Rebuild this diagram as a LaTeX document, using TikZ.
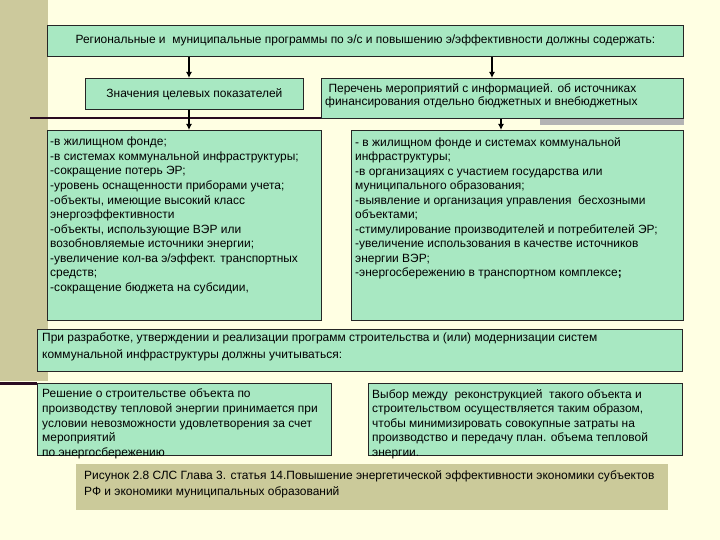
\documentclass[tikz,border=0pt]{standalone}
\usepackage{fontspec}
\setmainfont{Liberation Sans}
\usetikzlibrary{arrows.meta,calc}
\definecolor{bg}{HTML}{FFFFE3}
\definecolor{stripc}{HTML}{CCC99C}
\definecolor{mint}{HTML}{A8E8C2}
\definecolor{darkc}{HTML}{2A0C22}
\definecolor{captc}{HTML}{CBCA9A}
\definecolor{shadowc}{HTML}{B4B4B4}
\begin{document}
\begin{tikzpicture}[x=1bp,y=-1bp,
  box/.style={draw=black!85, fill=mint, line width=0.8bp, inner sep=0, anchor=north west},
  txt/.style={anchor=north west, inner sep=0, align=left, font=\fontsize{12}{14.6}\selectfont},
  arr/.style={line width=1.8bp, draw=black, -{Latex[length=6bp,width=6bp]}},
  hline/.style={line width=2bp, draw=darkc}
]
\fill[bg] (0,0) rectangle (720,540);
\useasboundingbox (0,0) rectangle (720,540);
\fill[stripc] (0,0) rectangle (48,381);
\draw[darkc, line width=3bp] (0,383.5) -- (37,383.5);

% top row
\node[box, minimum width=636bp, minimum height=31bp, font=\fontsize{12}{13}\selectfont] (top) at (47,25)
  {Региональные и~ муниципальные программы по э/с и повышению э/эффективности должны содержать:};
\node[box, minimum width=218bp, minimum height=31bp, font=\fontsize{12}{13}\selectfont] (lbox) at (85,78)
  {Значения целевых показателей};
\fill[shadowc] (540,118) rectangle (684,125);
\node[box, minimum width=362bp, minimum height=40bp] (rbox) at (321,78) {};
\node[txt, font=\fontsize{12}{13}\selectfont] (rboxt) at ($(rbox.north west)+(4,5)$)
  {\ Перечень мероприятий с информацией. об источниках\\финансирования отдельно бюджетных и внебюджетных};

% horizontal line
\coordinate (hl) at (30,118);
\draw[hline] (hl) -- (hl -| rbox.west);

% lower boxes
\node[box, minimum width=274bp, minimum height=190bp] (llbox) at (47,130) {};
\node[box, minimum width=332bp, minimum height=190bp] (lrbox) at (351,130) {};
\node[txt] (llt) at ($(llbox.north west)+(3,7)$)
  {-в жилищном фонде;\\
   -в системах коммунальной инфраструктуры;\\
   -сокращение потерь ЭР;\\
   -уровень оснащенности приборами учета;\\
   -объекты, имеющие высокий класс\\
   энергоэффективности\\
   -объекты, использующие ВЭР или\\
   возобновляемые источники энергии;\\
   -увеличение кол-ва э/эффект. транспортных\\
   средств;\\
   -сокращение бюджета на субсидии,};
\node[txt] (lrt) at ($(lrbox.north west)+(4,7)$)
  {- в жилищном фонде и системах коммунальной\\
   инфраструктуры;\\
   -в организациях с участием государства или\\
   муниципального образования;\\
   -выявление и организация управления~ бесхозными\\
   объектами;\\
   -стимулирование производителей и потребителей ЭР;\\
   -увеличение использования в качестве источников\\
   энергии ВЭР;\\
   -энергосбережению в транспортном комплексе\textbf{;}};

% arrows
\coordinate (xa) at (189,0);
\coordinate (xb) at (492,0);
\coordinate (xc) at (501,0);
\draw[arr] (top.south -| xa) -- (lbox.north -| xa);
\draw[arr] (top.south -| xb) -- (rbox.north -| xb);
\draw[arr, line width=1.5bp] (lbox.south -| xa) -- (llbox.north -| xa);
\draw[arr, line width=1.5bp] (rbox.south -| xc) -- (lrbox.north -| xc);

% bottom boxes
\node[box, minimum width=645bp, minimum height=42bp] (pbox) at (37,329) {};
\node[txt, font=\fontsize{12}{16.5}\selectfont] (pt) at ($(pbox.north west)+(5,4)$)
  {При разработке, утверждении и реализации программ строительства и (или) модернизации систем\\
   коммунальной инфраструктуры должны учитываться:};
\node[box, minimum width=294bp, minimum height=72bp] (rsbox) at (37,383) {};
\node[txt] (rst) at ($(rsbox.north west)+(5,6)$)
  {Решение о строительстве объекта по\\
   производству тепловой энергии принимается при\\
   условии невозможности удовлетворения за счет\\
   мероприятий\\
   по энергосбережению};
\node[box, minimum width=314bp, minimum height=72bp] (vbbox) at (368,383) {};
\node[txt] (vbt) at ($(vbbox.north west)+(4,6)$)
  {Выбор между~ реконструкцией~ такого объекта и\\
   строительством осуществляется таким образом,\\
   чтобы минимизировать совокупные затраты на\\
   производство и передачу план. объема тепловой\\
   энергии.};

% caption
\node[fill=captc, minimum width=592bp, minimum height=46bp, inner sep=0, anchor=north west] (cap) at (76,464) {};
\node[txt, font=\fontsize{12}{16}\selectfont] (capt) at ($(cap.north west)+(8,6)$)
  {Рисунок 2.8 СЛС Глава 3. статья 14.Повышение энергетической эффективности экономики субъектов\\
   РФ и экономики муниципальных образований};
\end{tikzpicture}
\end{document}
